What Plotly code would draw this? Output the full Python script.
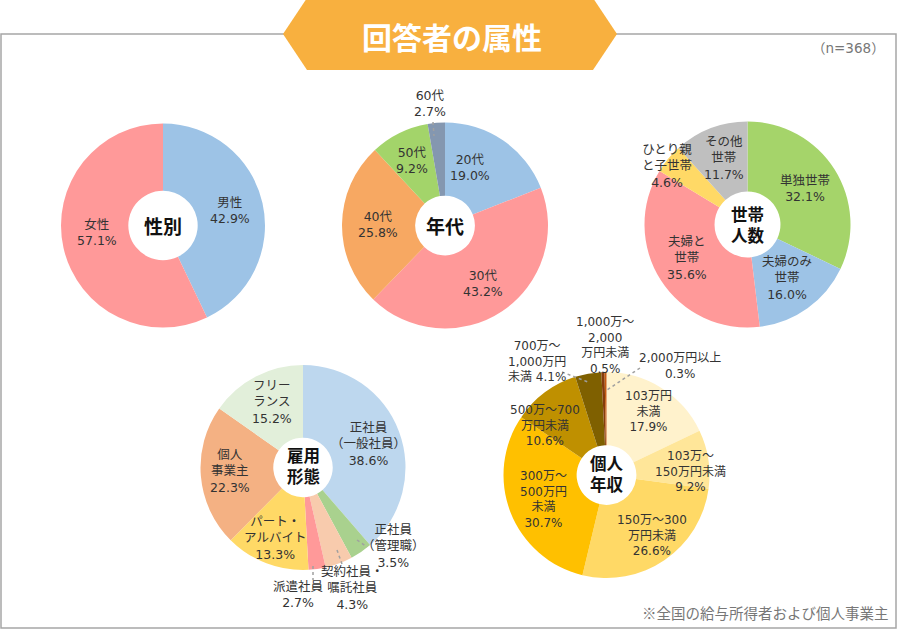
import plotly.graph_objects as go

W, H = 900, 630
FONT = "DejaVu Sans, Noto Sans CJK JP"
CJK = "Noto Sans CJK JP"

# ---- data ----
gender_labels = ["男性", "女性"]
gender_values = [42.9, 57.1]

age_labels = ["20代", "30代", "40代", "50代", "60代"]
age_values = [19.0, 43.2, 25.8, 9.2, 2.7]

house_labels = ["単独世帯", "夫婦のみ世帯", "夫婦と世帯", "ひとり親と子世帯", "その他世帯"]
house_values = [32.1, 16.0, 35.6, 4.6, 11.7]

job_labels = ["正社員（一般社員）", "正社員（管理職）", "契約社員・嘱託社員", "派遣社員",
              "パート・アルバイト", "個人事業主", "フリーランス"]
job_values = [38.6, 3.5, 4.3, 2.7, 13.3, 22.3, 15.2]

income_labels = ["103万円未満", "103万～150万円未満", "150万～300万円未満", "300万～500万円未満",
                 "500万～700万円未満", "700万～1,000万円未満", "1,000万～2,000万円未満", "2,000万円以上"]
income_values = [17.9, 9.2, 26.6, 30.7, 10.6, 4.1, 0.5, 0.3]

# ---- styles ----
gender_colors = ["#9DC3E6", "#FF9999"]
age_colors = ["#9DC3E6", "#FF9999", "#F7A862", "#A3D46A", "#8497B0"]
house_colors = ["#A5D46A", "#9DC3E6", "#FF9999", "#FFD966", "#BFBFBF"]
job_colors = ["#BDD7EE", "#A9D18E", "#F8CBAD", "#FF9999", "#FFD966", "#F4B183", "#E2EFDA"]
income_colors = ["#FFF2CC", "#FFE699", "#FFD966", "#FFC000", "#BF9000", "#7F6000", "#843C0C", "#C55A11"]


def dom(cx, cy, r):
    return dict(x=[(cx - r) / W, (cx + r) / W], y=[1 - (cy + r) / H, 1 - (cy - r) / H])


fig = go.Figure()
pies = [
    (gender_labels, gender_values, gender_colors, (163, 225.5, 102), 0.34),
    (age_labels, age_values, age_colors, (445, 225.5, 103), 0.29),
    (house_labels, house_values, house_colors, (747.5, 224.5, 103), 0.32),
    (job_labels, job_values, job_colors, (303, 467.5, 102.5), 0.29),
    (income_labels, income_values, income_colors, (606.5, 475, 103), 0.29),
]
for labels, values, colors, (cx, cy, r), hole in pies:
    fig.add_trace(go.Pie(
        labels=labels, values=values, sort=False, direction="clockwise", rotation=0,
        hole=hole, textinfo="none", hoverinfo="label+value",
        marker=dict(colors=colors, line=dict(width=0)),
        domain=dom(cx, cy, r), showlegend=False,
    ))

annotations = []


def lab(text, x, y, size=12.5, color="#333333", bold=False, xanchor="center", family=FONT):
    annotations.append(dict(
        text=text, x=x / W, y=1 - y / H, xref="paper", yref="paper", showarrow=False,
        xanchor=xanchor, yanchor="middle", align="center", borderpad=0,
        font=dict(family=family, size=size, color=color, weight="bold" if bold else "normal"),
    ))


# slice labels
lab(f"{gender_labels[0]}<br>{gender_values[0]:.1f}%", 230, 211)
lab(f"{gender_labels[1]}<br>{gender_values[1]:.1f}%", 97, 232)

age_pos = [(470, 168), (483, 283), (378, 224), (412, 160), (430, 104)]
for l, v, (x, y) in zip(age_labels, age_values, age_pos):
    lab(f"{l}<br>{v:.1f}%", x, y)

house_text = ["単独世帯", "夫婦のみ<br>世帯", "夫婦と<br>世帯", "ひとり親<br>と子世帯", "その他<br>世帯"]
house_pos = [(805, 188), (787, 278), (687, 258), (667, 166), (724, 158)]
for t, v, (x, y) in zip(house_text, house_values, house_pos):
    lab(f"{t}<br>{v:.1f}%", x, y)

job_text = ["正社員<br>（一般社員）", "正社員<br>（管理職）", "契約社員・<br>嘱託社員", "派遣社員",
            "パート・<br>アルバイト", "個人<br>事業主", "フリー<br>ランス"]
job_pos = [(368, 444), (393, 546), (352, 588), (298, 594), (275, 538), (230, 471), (272, 402)]
for t, v, (x, y) in zip(job_text, job_values, job_pos):
    lab(f"{t}<br>{v:.1f}%", x, y)

income_text = ["103万円<br>未満<br>{v}", "103万～<br>150万円未満<br>{v}", "150万～300<br>万円未満<br>{v}",
               "300万～<br>500万円<br>未満<br>{v}", "500万～700<br>万円未満<br>{v}",
               "700万～<br>1,000万円<br>未満 {v}", "1,000万～<br>2,000<br>万円未満<br>{v}",
               "2,000万円以上<br>{v}"]
income_pos = [(648, 411), (690, 471), (652, 535), (543, 499), (545, 425), (537, 361), (605, 345), (680, 366)]
for t, v, (x, y) in zip(income_text, income_values, income_pos):
    lab(t.format(v=f"{v:.1f}%"), x, y, size=12)

# center titles
lab("性別", 163, 225, size=19, color="#111111", bold=True, family=CJK)
lab("年代", 445, 225, size=19, color="#111111", bold=True, family=CJK)
lab("世帯<br>人数", 747.5, 226, size=16.5, color="#111111", bold=True)
lab("雇用<br>形態", 303, 467, size=16.5, color="#111111", bold=True)
lab("個人<br>年収", 606.5, 475, size=16.5, color="#111111", bold=True)

# header / notes
lab("回答者の属性", 452, 36, size=30, color="#FFFFFF", bold=True, family=CJK)
lab("（n=368）", 886, 48, size=13.5, color="#777777", xanchor="right")
lab("※全国の給与所得者および個人事業主", 890, 612, size=14.5, color="#777777", xanchor="right", family=CJK)


def px(x, y):
    return x / W, 1 - y / H


shapes = []
# frame
x0, y0 = px(1, 34)
x1, y1 = px(896, 628)
shapes.append(dict(type="rect", xref="paper", yref="paper", x0=x0, y0=y1, x1=x1, y1=y0,
                   line=dict(color="#A6A6A6", width=1.5), layer="below"))
# title hexagon
hexpts = [(283, 34), (307, -2), (593, -2), (617, 34), (593, 70), (307, 70)]
path = "M " + " L ".join(f"{x/W:.5f},{1-y/H:.5f}" for x, y in hexpts) + " Z"
shapes.append(dict(type="path", xref="paper", yref="paper", path=path,
                   fillcolor="#F8B03F", line=dict(width=0), layer="above"))
# leader lines
leaders = [((433, 122), (434, 136)),
           ((313, 566), (313, 580)), ((337, 550), (342, 564)), ((357, 540), (367, 547)),
           ((562, 372), (588, 382)), ((640, 368), (607, 390))]
for (ax, ay), (bx, by) in leaders:
    a = px(ax, ay)
    b = px(bx, by)
    shapes.append(dict(type="line", xref="paper", yref="paper", x0=a[0], y0=a[1], x1=b[0], y1=b[1],
                       line=dict(color="#A0A0A0", width=1.5, dash="dot")))

fig.update_layout(
    width=W, height=H, margin=dict(l=0, r=0, t=0, b=0),
    paper_bgcolor="white", plot_bgcolor="white",
    annotations=annotations, shapes=shapes,
    font=dict(family=FONT),
)

fig.write_html("out.html", config={"displayModeBar": False},
               post_script="document.body.style.margin='0';document.body.style.padding='0';")
